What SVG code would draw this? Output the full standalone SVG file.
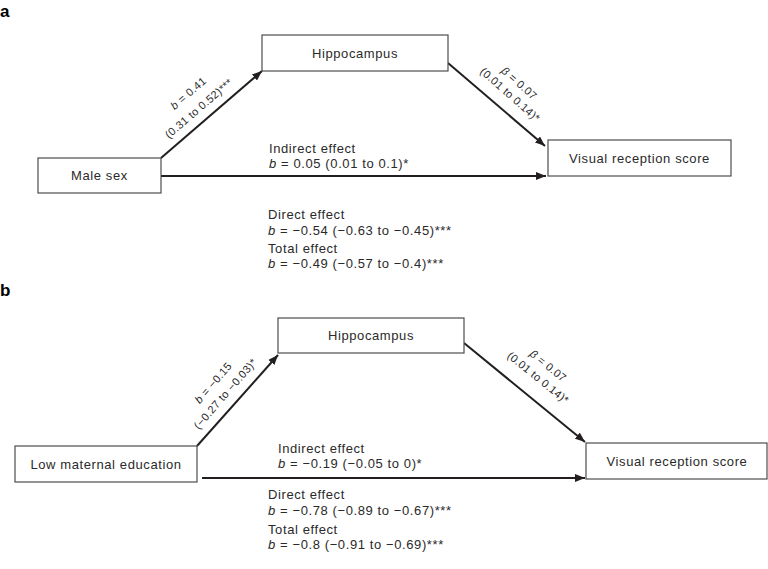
<svg xmlns="http://www.w3.org/2000/svg" width="768" height="569" viewBox="0 0 768 569">
<defs>
<marker id="ah" markerUnits="userSpaceOnUse" markerWidth="10" markerHeight="8" refX="10" refY="4" orient="auto">
<path d="M0,0 L10,4 L0,8 z" fill="#231f20"/>
</marker>
</defs>
<style>
.box{fill:#fff;stroke:#4d4d4d;stroke-width:1.2}
.t{font-family:"Liberation Sans",Arial,sans-serif;font-size:13px;letter-spacing:0.6px;fill:#2a2a2a}
.bl{text-anchor:middle}
.r{font-family:"Liberation Sans",Arial,sans-serif;font-size:11px;letter-spacing:0.4px;fill:#2a2a2a;text-anchor:middle}
.pl{font-family:"Liberation Sans",Arial,sans-serif;font-size:17px;font-weight:bold;fill:#000}
.c{stroke:#231f20;stroke-width:2;fill:none;marker-end:url(#ah)}
</style>
<rect width="768" height="569" fill="#fff"/>
<text class="pl" x="0" y="17">a</text>
<text class="pl" x="0" y="296">b</text>

<g id="connectors">
<line class="c" x1="161" y1="158" x2="262" y2="71"/>
<line class="c" x1="448" y1="63" x2="545" y2="146"/>
<line class="c" x1="161" y1="176" x2="546" y2="176"/>
<line class="c" x1="197" y1="446" x2="278" y2="355"/>
<line class="c" x1="464" y1="343" x2="585" y2="442"/>
<line class="c" x1="202" y1="478" x2="585" y2="478"/>
</g>

<g id="a-hippocampus"><rect class="box" x="262" y="35" width="186" height="36"/><text class="t bl" x="355" y="57.5">Hippocampus</text></g>
<g id="a-male"><rect class="box" x="38" y="158" width="123" height="35"/><text class="t bl" x="99.5" y="180">Male sex</text></g>
<g id="a-visual"><rect class="box" x="548" y="140" width="183" height="36"/><text class="t bl" x="639.5" y="162.5">Visual reception score</text></g>

<g id="a-labels">
<text class="r" transform="translate(188.5,93.5) rotate(-40.7)" y="3.5"><tspan font-style="italic">b</tspan> = 0.41</text>
<text class="r" transform="translate(199,108.5) rotate(-40.7)" y="3.5">(0.31 to 0.52)***</text>
<text class="r" transform="translate(519,83.5) rotate(41.5)" y="3.5"><tspan font-style="italic">β</tspan> = 0.07</text>
<text class="r" transform="translate(510,95) rotate(41.5)" y="3.5">(0.01 to 0.14)*</text>
<text class="t" x="269" y="153">Indirect effect</text>
<text class="t" x="269" y="168"><tspan font-style="italic">b</tspan> = 0.05 (0.01 to 0.1)*</text>
<text class="t" x="268" y="219">Direct effect</text>
<text class="t" x="268" y="235"><tspan font-style="italic">b</tspan> = −0.54 (−0.63 to −0.45)***</text>
<text class="t" x="268" y="253">Total effect</text>
<text class="t" x="268" y="268"><tspan font-style="italic">b</tspan> = −0.49 (−0.57 to −0.4)***</text>
</g>

<g id="b-hippocampus"><rect class="box" x="278" y="318" width="186" height="35"/><text class="t bl" x="371" y="340">Hippocampus</text></g>
<g id="b-lowmat"><rect class="box" x="15" y="446" width="182" height="36"/><text class="t bl" x="106" y="468.5">Low maternal education</text></g>
<g id="b-visual"><rect class="box" x="586" y="443" width="181" height="36"/><text class="t bl" x="677" y="465.5">Visual reception score</text></g>

<g id="b-labels">
<text class="r" transform="translate(213.5,383) rotate(-49)" y="3.5"><tspan font-style="italic">b</tspan> = −0.15</text>
<text class="r" transform="translate(225.5,394) rotate(-49)" y="3.5">(−0.27 to −0.03)*</text>
<text class="r" transform="translate(548,366) rotate(39)" y="3.5"><tspan font-style="italic">β</tspan> = 0.07</text>
<text class="r" transform="translate(538,378) rotate(39)" y="3.5">(0.01 to 0.14)*</text>
<text class="t" x="278" y="453">Indirect effect</text>
<text class="t" x="278" y="468"><tspan font-style="italic">b</tspan> = −0.19 (−0.05 to 0)*</text>
<text class="t" x="268" y="499">Direct effect</text>
<text class="t" x="268" y="515"><tspan font-style="italic">b</tspan> = −0.78 (−0.89 to −0.67)***</text>
<text class="t" x="268" y="534">Total effect</text>
<text class="t" x="268" y="549"><tspan font-style="italic">b</tspan> = −0.8 (−0.91 to −0.69)***</text>
</g>
</svg>
